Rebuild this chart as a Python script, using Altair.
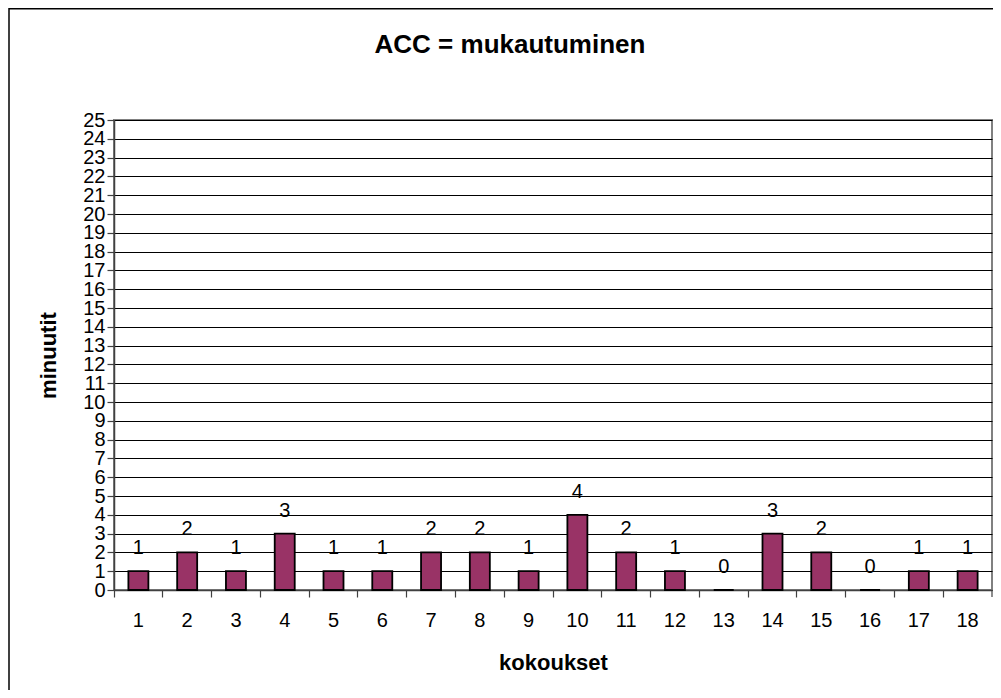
import altair as alt
import pandas as pd

kokoukset = [str(i) for i in range(1, 19)]
minuutit = [1, 2, 1, 3, 1, 1, 2, 2, 1, 4, 2, 1, 0, 3, 2, 0, 1, 1]
y_ticks = list(range(0, 26))
chart_title = "ACC = mukautuminen"

df = pd.DataFrame({"kokous": kokoukset, "min": minuutit})

FONT = "Liberation Sans, Arial, Helvetica, sans-serif"
W, H = 878, 470

base = alt.Chart(df)

x_enc = alt.X(
    "kokous:O",
    sort=kokoukset,
    scale=alt.Scale(paddingInner=0, paddingOuter=0),
    axis=alt.Axis(
        title="kokoukset",
        labelAngle=0,
        bandPosition=0,
        tickSize=7,
        labelPadding=13,
        labelFontSize=20,
        labelFont=FONT,
        labelColor="#000000",
        titleFont=FONT,
        titleFontSize=22,
        titleFontWeight="bold",
        titleColor="#000000",
        titleBaseline="alphabetic",
        titleY=79,
        domainColor="#404040",
        domainWidth=1.5,
        tickColor="#404040",
        tickWidth=1.2,
        grid=False,
    ),
)

y_enc = alt.Y(
    "min:Q",
    scale=alt.Scale(domain=[0, 25], nice=False, zero=True),
    axis=alt.Axis(
        title="minuutit",
        values=y_ticks,
        tickCount=40,
        format="d",
        tickSize=7,
        labelPadding=2,
        labelFontSize=20,
        labelFont=FONT,
        labelColor="#000000",
        labelOverlap=False,
        labelBaseline="middle",
        titleFont=FONT,
        titleFontSize=22,
        titleFontWeight="bold",
        titleColor="#000000",
        titleAngle=-90,
        titleBaseline="alphabetic",
        titleAlign="center",
        titleX=-59,
        titleY=H / 2,
        domainColor="#404040",
        domainWidth=1.5,
        tickColor="#404040",
        tickWidth=1.2,
        grid=True,
        gridColor="#000000",
        gridWidth=1,
        gridOpacity=1,
    ),
)

bars = base.mark_bar(
    size=20, color="#993366", stroke="#000000", strokeWidth=1.8
).encode(x=x_enc, y=y_enc)

labels = base.mark_text(
    baseline="alphabetic", dy=-17, fontSize=20, font=FONT, color="#000000"
).encode(x=x_enc, y=y_enc, text="min:Q")

one = alt.Data(values=[{"t": chart_title}])
title_mark = alt.Chart(one).mark_text(
    font=FONT, fontSize=26, fontWeight="bold", color="#000000",
    align="center", baseline="alphabetic",
).encode(x=alt.value(396), y=alt.value(-67), text="t:N")

end_tick = alt.Chart(one).mark_rule(color="#404040", strokeWidth=1.2).encode(
    x=alt.value(W), y=alt.value(H), y2=alt.value(H + 7)
)
frame_top = alt.Chart(one).mark_rule(color="#000000", strokeWidth=1.5).encode(
    x=alt.value(-105), x2=alt.value(W + 30), y=alt.value(-111.3)
)
frame_left = alt.Chart(one).mark_rule(color="#000000", strokeWidth=1.5).encode(
    x=alt.value(-105), y=alt.value(-112), y2=alt.value(H + 130)
)

chart = (
    alt.layer(frame_top, frame_left, title_mark, bars, labels, end_tick)
    .properties(
        width=W,
        height=H,
        autosize=alt.AutoSizeParams(type="none"),
        padding={"left": 106, "top": 112, "right": 1, "bottom": 100},
        background="#ffffff",
    )
    .configure_view(stroke="#808080", strokeWidth=2)
)

chart.save("out.html", embed_options={"renderer": "svg", "actions": False})
